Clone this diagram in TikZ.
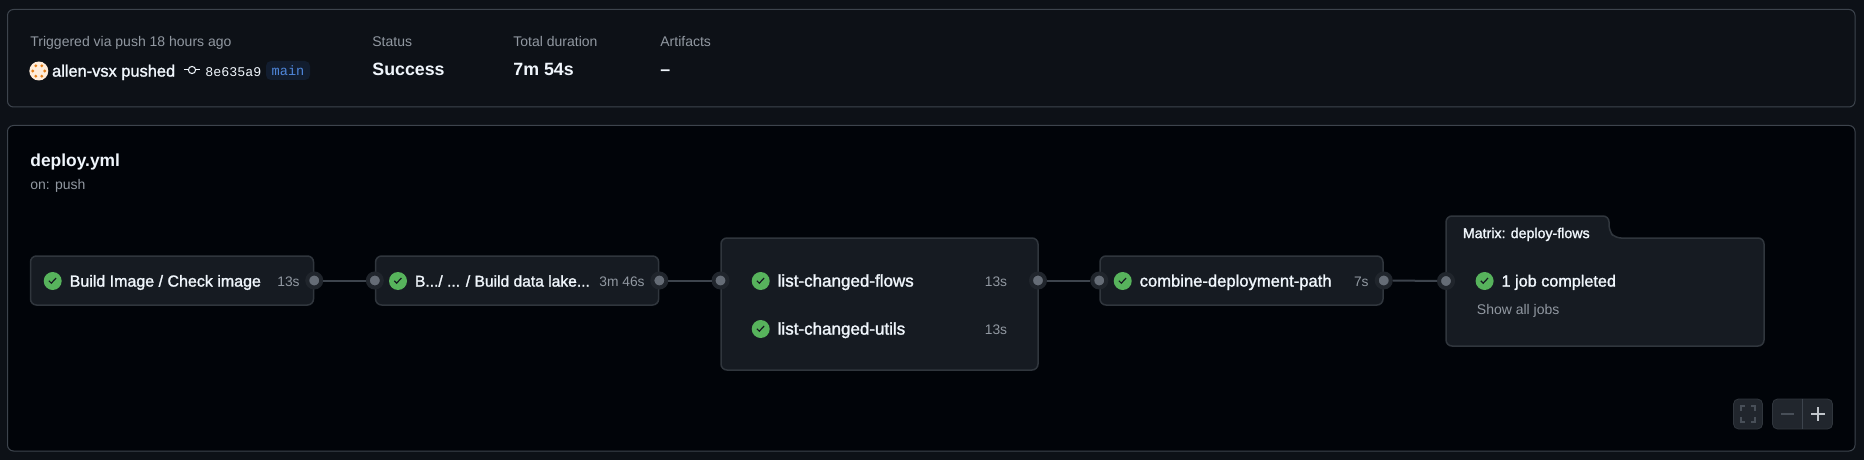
\documentclass[tikz,border=0pt]{standalone}
\usepackage{fontspec}
\setmainfont{Liberation Sans}
\setmonofont{Liberation Mono}
\newfontfamily\medfont[FakeBold=1.5]{Liberation Sans}
\usetikzlibrary{positioning}

\definecolor{pagebg}{HTML}{0D1117}
\definecolor{panelbg}{HTML}{010409}
\definecolor{panelline}{HTML}{3D444D}
\definecolor{jobbg}{HTML}{161B22}
\definecolor{jobline}{HTML}{30363D}
\definecolor{portring}{HTML}{20252C}
\definecolor{portdot}{HTML}{656C76}
\definecolor{okgreen}{HTML}{57B35C}
\definecolor{softwhite}{HTML}{F0F6FC}
\definecolor{muted}{HTML}{9198A1}
\definecolor{branchbg}{HTML}{121D2F}
\definecolor{branchfg}{HTML}{4F86DA}
\definecolor{btnbg}{HTML}{21262D}
\definecolor{dimicon}{HTML}{484F58}

\tikzset{
  panel/.style={draw=panelline,line width=.5pt,rounded corners=3pt},
  job/.style={draw=jobline,fill=jobbg,line width=.75pt,rounded corners=3pt,minimum height=24.5pt,minimum width=141.5pt,inner sep=0pt},
  port/.style={circle,fill=portdot,draw=portring,line width=2pt,minimum size=7pt,inner sep=0pt},
  edge/.style={draw=panelline,line width=1pt},
  okicon/.style={circle,fill=okgreen,minimum size=9pt,inner sep=0pt,
    path picture={\draw[jobbg,line width=.6pt] ([xshift=-1.9pt,yshift=.1pt]path picture bounding box.center) -- ++(1.2pt,-1.2pt) -- ++(2.4pt,2.6pt);}},
  txt/.style={inner sep=0pt,text height=6.8pt,text depth=1.2pt,anchor=west},
  jobname/.style={txt,text=softwhite,font=\medfont\fontsize{#1}{10}\selectfont},
  jobname/.default=8.1,
  jobtime/.style={txt,anchor=east,text=muted,font=\fontsize{6.9}{9}\selectfont},
  small/.style={txt,text=muted,font=\fontsize{7}{9}\selectfont},
  value/.style={txt,text=softwhite,font=\bfseries\fontsize{8.9}{11}\selectfont},
  btn/.style={fill=btnbg,draw=jobline,line width=.4pt,rounded corners=2.5pt,inner sep=0pt}
}

\begin{document}
\begin{tikzpicture}[x=.5pt,y=-.5pt,node distance=3.6pt]
\fill[pagebg] (0,0) rectangle (1864,460);
\useasboundingbox (0,0) rectangle (1864,460);
\draw[panel,fill=pagebg] (7.5,9.5) rectangle (1855,107);
\draw[panel,fill=panelbg] (7.5,125.5) rectangle (1855,451);

% header
\node[small] (trigger) at (30,41) {Triggered via push 18 hours ago};
\node[small] (statuslbl) at (372,41) {Status};
\node[small] (durationlbl) at (513,41) {Total duration};
\node[small] (artifactlbl) at (660,41) {Artifacts};
\node[value] (status) at (372,70) {Success};
\node[value] (duration) at (513,70) {7m 54s};
\node[value] (artifact) at (660,70) {--};
\node[circle,fill=white!85!orange,minimum size=9.5pt,inner sep=0pt] (avatar) at (38.8,71) {};
\foreach \a in {0,60,...,300}
  \fill[orange!60!brown] (avatar.center) ++(\a:3pt) circle (.8pt);
\node[jobname=8.2,right=1.5pt of avatar] (pusher) {allen-vsx pushed};
\node[txt,font=\ttfamily\fontsize{6.65}{9}\selectfont,text=softwhite] (sha) at (205,71) {8e635a9};
\node[circle,draw=softwhite,line width=.5pt,minimum size=3.6pt,inner sep=0pt] (commit) at (192,70) {};
\draw[softwhite,line width=.5pt] (184,70) -- (commit) -- (200,70);
\node[fill=branchbg,rounded corners=2.5pt,inner sep=0pt,minimum width=22pt,minimum height=9.5pt,text=branchfg,font=\ttfamily\fontsize{6.8}{9}\selectfont] (branch) at (288,70.5) {main};

\node[txt,text=softwhite,font=\bfseries\fontsize{8.7}{11}\selectfont] (workflow) at (30,161) {deploy.yml};
\node[small] (trigger2) at (30,183.5) {on: push};

% jobs
\node[job] (job1) at (172,280.5) {};
\node[job,right=30.3pt of job1] (job2) {};
\node[job,minimum width=158.5pt,minimum height=66pt] (job3) at (879.5,304) {};
\node[job] (job4) at (1241.5,280.5) {};
\draw[jobline,fill=jobbg,line width=.75pt,rounded corners=3pt] (1446,346) -- (1446,216) -- (1609,216) -- (1609,231) -- (1615,238) -- (1764,238) -- (1764,346) -- cycle;
\coordinate (job5w) at (1446,281);

\node[port] (p1r) at (job1.east) {};
\node[port] (p2l) at (job2.west) {};
\node[port] (p2r) at (job2.east) {};
\node[port] (p3l) at (720.5,280.5) {};
\node[port] (p3r) at (1038,280.5) {};
\node[port] (p4l) at (job4.west) {};
\node[port] (p4r) at (job4.east) {};
\node[port] (p5l) at (job5w) {};
\draw[edge] (p1r) -- (p2l);
\draw[edge] (p2r) -- (p3l);
\draw[edge] (p3r) -- (p4l);
\draw[edge] (p4r) -- (p5l);

\node[okicon] (ok1) at (52.7,281) {};
\node[jobname=8,right=of ok1] (name1) {Build Image / Check image};
\node[jobtime] (time1) at (300,281) {13s};
\node[okicon] (ok2) at (398,281) {};
\node[jobname=7.8,right=of ok2] (name2) {B.../ ... / Build data lake...};
\node[jobtime] (time2) at (645,281) {3m 46s};
\node[okicon] (ok3) at (760.7,281) {};
\node[jobname=8.5,right=of ok3] (name3) {list-changed-flows};
\node[jobtime] (time3) at (1007.5,281) {13s};
\node[okicon] (ok4) at (760.7,329) {};
\node[jobname=8.5,right=of ok4] (name4) {list-changed-utils};
\node[jobtime] (time4) at (1007.5,329) {13s};
\node[okicon] (ok5) at (1122.7,281) {};
\node[jobname=8.3,right=of ok5] (name5) {combine-deployment-path};
\node[jobtime] (time5) at (1369,281) {7s};

% matrix
\node[jobname=7.1] (tab) at (1462.5,232.5) {Matrix: deploy-flows};
\node[okicon] (ok6) at (1484.6,281) {};
\node[jobname,right=of ok6] (name6) {1 job completed};
\node[small] (showall) at (1476.5,308.5) {Show all jobs};

% controls
\node[btn,minimum width=14.5pt,minimum height=15pt] (fullbtn) at (1748,414) {};
\node[btn,minimum width=30pt,minimum height=15pt] (zoombtn) at (1802.5,414) {};
\draw[panelline,line width=.5pt] (zoombtn.north) -- (zoombtn.south);
\draw[dimicon,line width=.6pt] (1781,414) -- (1794,414);
\draw[softwhite!80!black,line width=.6pt] (1811,414) -- (1825,414) (1818,407) -- (1818,421);
\draw[dimicon,line width=.6pt] (1741,411) |- (1745,406) (1751,406) -| (1755,411) (1755,417) |- (1751,422) (1745,422) -| (1741,417);
\end{tikzpicture}
\end{document}
